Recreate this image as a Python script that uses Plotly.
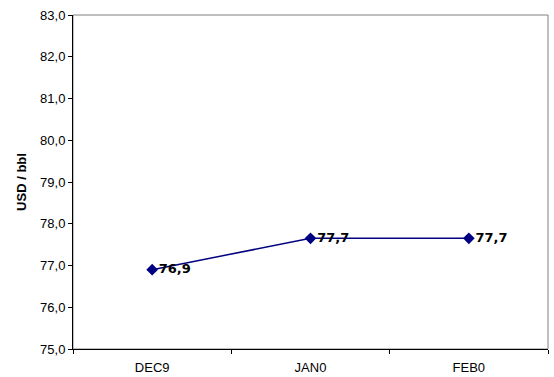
import plotly.graph_objects as go

months = ["DEC9", "JAN0", "FEB0"]
prices = [76.9, 77.65, 77.65]
labels = ["76,9", "77,7", "77,7"]
y_ticks = [75, 76, 77, 78, 79, 80, 81, 82, 83]

fig = go.Figure()
fig.add_trace(go.Scatter(
    x=months, y=prices, mode="lines+markers+text",
    line=dict(color="#000080", width=1.5),
    marker=dict(symbol="diamond", size=9, color="#000080"),
    text=["<b>" + t + "</b>" for t in labels],
    textposition="middle right",
    textfont=dict(family="DejaVu Sans", size=13, color="black"),
    cliponaxis=False,
    showlegend=False,
))

fig.add_shape(type="rect", xref="paper", yref="paper", x0=0, x1=1, y0=0, y1=1,
              line=dict(color="#808080", width=1), layer="below")

fig.update_layout(
    width=554, height=377,
    margin=dict(l=73, r=6, t=15, b=28),
    paper_bgcolor="white", plot_bgcolor="white",
    separators=", ",
    font=dict(family="Liberation Sans, Arial", size=13, color="black"),
)
fig.update_xaxes(
    type="category", range=[-0.5, 2.5], automargin=False,
    showline=True, linecolor="black", linewidth=1,
    ticks="outside", ticklen=4, tickcolor="black", tickson="boundaries",
    showgrid=False, zeroline=False, ticklabelstandoff=6,
)
fig.update_yaxes(
    range=[75, 83], tickvals=y_ticks, tickformat=".1f", automargin=False,
    showline=True, linecolor="black", linewidth=1,
    ticks="outside", ticklen=4, tickcolor="black",
    showgrid=False, zeroline=False,
    title=dict(text="<b>USD / bbl</b>", font=dict(size=13), standoff=10),
)

fig.write_html("out.html")
